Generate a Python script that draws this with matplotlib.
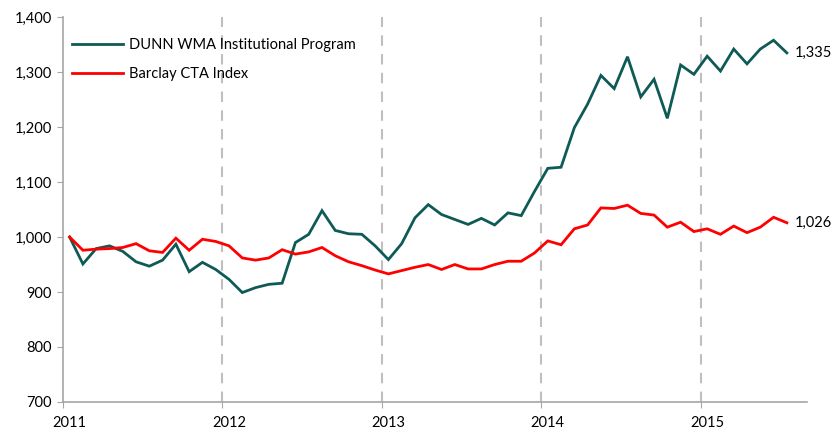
import matplotlib
matplotlib.use("Agg")
import matplotlib.pyplot as plt
import numpy as np

plt.rcParams['font.family'] = ['Lato', 'DejaVu Sans']

year_labels = ["2011", "2012", "2013", "2014", "2015"]

dunn = [1000, 951, 979, 984, 974, 955, 947, 958, 987, 937, 954, 941,
        923, 899, 908, 914, 916, 990, 1005, 1048, 1012, 1006, 1005, 984,
        959, 988, 1035, 1059, 1041, 1032, 1023, 1034, 1022, 1044, 1039, 1083,
        1125, 1127, 1199, 1242, 1294, 1270, 1328, 1255, 1287, 1216, 1313, 1296,
        1329, 1302, 1342, 1315, 1342, 1358, 1335]

barclay = [1000, 976, 978, 979, 981, 988, 975, 972, 998, 976, 996, 992,
           984, 962, 958, 962, 977, 969, 973, 981, 966, 955, 948, 940,
           933, 939, 945, 950, 941, 950, 942, 942, 950, 956, 956, 971,
           993, 986, 1015, 1022, 1053, 1052, 1058, 1043, 1040, 1018, 1027, 1010,
           1015, 1005, 1020, 1008, 1018, 1036, 1026]

dunn_color = "#0e5a56"
cta_color = "#ff0000"

fig = plt.figure(figsize=(8.32, 4.29), dpi=100)
ax = fig.add_axes([0.0757, 0.063, 0.894, 0.897])

x = np.arange(len(dunn))
ax.plot(x, dunn, color=dunn_color, lw=2.0, label="DUNN WMA Institutional Program",
        solid_joinstyle='miter')
ax.plot(x, barclay, color=cta_color, lw=2.0, label="Barclay CTA Index",
        solid_joinstyle='miter')

ax.set_xlim(-0.5, 55.5)
ax.set_ylim(700, 1400)

# year boundaries
bounds = [11.5 + 12 * k for k in range(4)]
for b in bounds:
    ax.axvline(b, color="#bfbfbf", lw=1.5, ls=(0, (5, 4)), zorder=0)

ax.set_yticks(np.arange(700, 1401, 100))
ax.set_yticklabels([f"{v:,}" for v in range(700, 1401, 100)])
ax.set_xticks([-0.5] + bounds)
ax.set_xticklabels([])
ax.set_xticks([0, 12, 24, 36, 48], minor=True)
ax.set_xticklabels(year_labels, minor=True)
ax.tick_params(axis='x', which='minor', length=0, pad=10, labelsize=10.5)
ax.tick_params(axis='x', which='major', length=4, color="#a6a6a6")
ax.tick_params(axis='y', length=4, color="#a6a6a6", labelsize=10.5, pad=4)

for s in ["top", "right"]:
    ax.spines[s].set_visible(False)
for s in ["left", "bottom"]:
    ax.spines[s].set_color("#a6a6a6")
    ax.spines[s].set_linewidth(1.2)

ax.text(54 + 0.6, dunn[-1], f"{dunn[-1]:,}", va="center", ha="left", fontsize=10.5)
ax.text(54 + 0.6, barclay[-1], f"{barclay[-1]:,}", va="center", ha="left", fontsize=10.5)

leg = ax.legend(loc="upper left", bbox_to_anchor=(-0.005, 0.98), frameon=False,
                fontsize=10.5, handlelength=3.5, labelspacing=1.05, handletextpad=0.4)

fig.savefig("out.png", dpi=100)
